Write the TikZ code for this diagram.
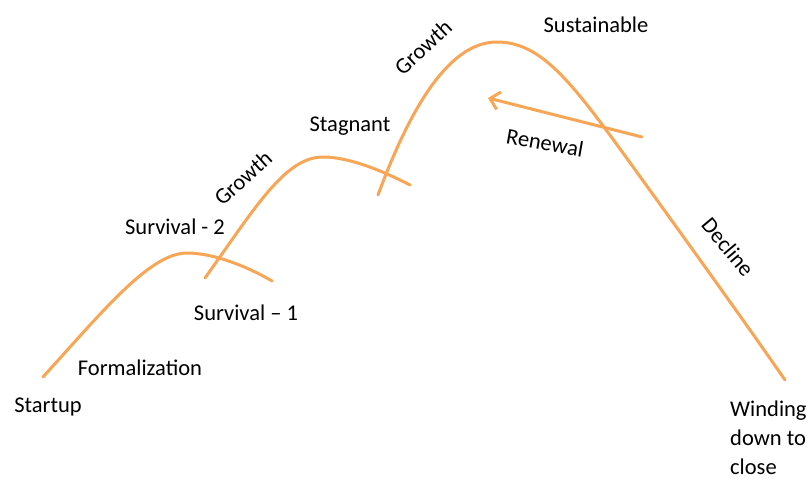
\documentclass[tikz,border=0pt]{standalone}
\usepackage{fontspec}
\setmainfont{Carlito}
\usetikzlibrary{arrows.meta}
\definecolor{stageorange}{RGB}{248,166,86}
\begin{document}
\begin{tikzpicture}[x=1pt,y=-1pt, line join=round, line cap=round,
        lbl/.style={inner sep=0pt, font=\fontsize{22.5}{29}\selectfont},
        stage/.style={draw=stageorange, line width=3pt}]
        \useasboundingbox (0,0) rectangle (807,479);
        % first hump
        \draw[stage] (43,377) .. controls (103,311) and (150,253) .. (187,253)
                .. controls (215,253) and (250,268) .. (272,281);
        % second hump
        \draw[stage] (205,278) .. controls (255,208) and (285,157) .. (323,157)
                .. controls (350,157) and (385,172) .. (410,185);
        % big hump and decline
        \draw[stage] (378,195) .. controls (416,92) and (455,42) .. (497,42)
                .. controls (540,42) and (570,80) .. (623,153)
                .. controls (680,232) and (740,315) .. (785,380);
        % renewal arrow
        \coordinate (renewTail) at (642,137);
        \coordinate (renewHead) at (488,98);
        \draw[stage, -{Straight Barb[length=9pt, width=18pt]}] (renewTail) -- (renewHead);
        % labels
        \node[lbl] (startup) at (48,407) {Startup};
        \node[lbl] (formal) at (140,368) {Formalization};
        \node[lbl] (surv1) at (246,313) {Survival -- 1};
        \node[lbl] (surv2) at (175,227) {Survival - 2};
        \node[lbl, rotate=42] (growthA) at (243,178) {Growth};
        \node[lbl] (stagnant) at (350,126) {Stagnant};
        \node[lbl, rotate=43] (growthB) at (423,47) {Growth};
        \node[lbl] (sustain) at (596,25) {Sustainable};
        \node[lbl, rotate=-10] (renewal) at (545,143) {Renewal};
        \node[lbl, rotate=-50] (decline) at (728,247) {Decline};
        \node[lbl, align=left, anchor=north west] (winding) at (730,401) {Winding\\down to\\close};
\end{tikzpicture}
\end{document}
